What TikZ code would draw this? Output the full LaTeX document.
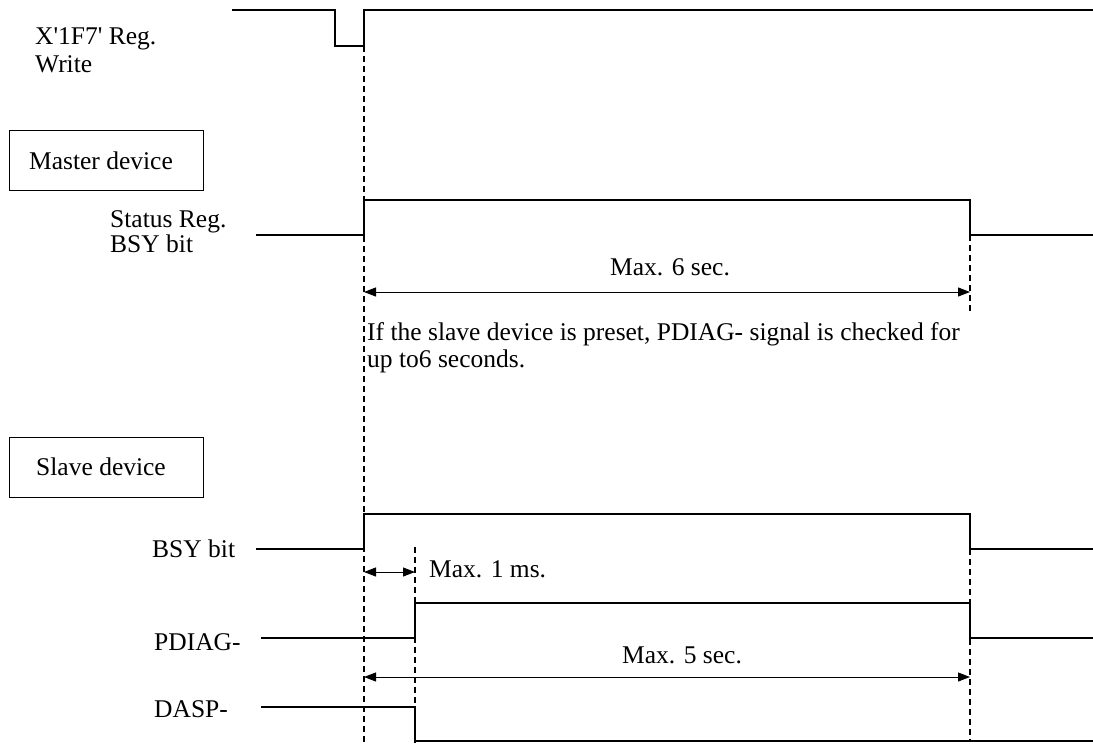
\documentclass[tikz,border=0pt]{standalone}
\usepackage{fontspec}
\setmainfont{Liberation Serif}[Ligatures=TeXOff]
\usetikzlibrary{arrows.meta}
\begin{document}
\begin{tikzpicture}[x=1pt,y=-1pt,
  sig/.style={line width=1.5pt},
  guide/.style={line width=1.2pt,dash pattern=on 6pt off 4pt},
  dim/.style={line width=1pt,{Triangle[length=12pt,width=9pt]}-{Triangle[length=12pt,width=9pt]}},
  lbl/.style={anchor=base west,inner sep=0pt,font=\fontsize{25.5}{29}\selectfont},
  boxn/.style={draw,line width=1pt,minimum width=194pt,minimum height=60pt,anchor=north west,inner sep=0pt,font=\fontsize{25.5}{29}\selectfont}]
\useasboundingbox (0,0) rectangle (1093,744);
% labels
\node[lbl] (wr1) at (35,45) {X'1F7' Reg.};
\node[lbl] (wr2) at (35,72) {Write};
\node[boxn] (master) at (8.5,130) {\hspace*{-10pt}Master device};
\node[lbl] (st1) at (110,227) {Status Reg.};
\node[lbl] (st2) at (110,252) {BSY bit};
\node[boxn] (slave) at (8.5,436.5) {\hspace*{-10pt}Slave device};
\node[lbl] (bsy) at (152,557) {BSY bit};
\node[lbl] (pdiag) at (154,650) {PDIAG-};
\node[lbl] (dasp) at (154,717) {DASP-};
\node[lbl] (m6) at (610,275) {Max. 6 sec.};
\node[lbl] (note1) at (367,340) {If the slave device is preset, PDIAG- signal is checked for};
\node[lbl] (note2) at (367,367) {up to6 seconds.};
\node[lbl] (m1) at (429,577) {Max. 1 ms.};
\node[lbl] (m5) at (622,663) {Max. 5 sec.};
% coordinates
\coordinate (wS) at (232,10);
\coordinate (wA) at (335,10);
\coordinate (wB) at (335,46);
\coordinate (wC) at (364,46);
\coordinate (wD) at (364,10);
\coordinate (wE) at (1093,10);
\coordinate (gTop) at (364,46);
\coordinate (gBot) at (364,744);
\coordinate (g2Top) at (415,547);
\coordinate (g2Bot) at (415,744);
\coordinate (g3Top) at (970,235);
\coordinate (g3Bot) at (970,313);
\coordinate (g4Top) at (970,549);
\coordinate (g4Bot) at (970,741);
\coordinate (a6L) at (364,292);
\coordinate (a6R) at (970,292);
\coordinate (a1L) at (364,572);
\coordinate (a1R) at (415,572);
\coordinate (a5L) at (364,677);
\coordinate (a5R) at (970,677);
% guides
\draw[guide] (gTop) -- (gBot);
\draw[guide] (g2Top) -- (g2Bot);
\draw[guide] (g3Top) -- (g3Bot);
\draw[guide] (g4Top) -- (g4Bot);
% signals
\draw[sig] (wS) -- (wA) -- (wB) -- (wC) -- (wD) -- (wE);
\draw[sig] (256,235) -- (364,235) -- (364,200) -- (970,200) -- (970,235) -- (1093,235);
\draw[sig] (256,549) -- (364,549) -- (364,514) -- (970,514) -- (970,549) -- (1093,549);
\draw[sig] (261,638) -- (415,638) -- (415,603) -- (970,603) -- (970,638) -- (1093,638);
\draw[sig] (261,707) -- (415,707) -- (415,741) -- (1093,741);
% dimension arrows
\draw[dim] (a6L) -- (a6R);
\draw[dim] (a1L) -- (a1R);
\draw[dim] (a5L) -- (a5R);
\end{tikzpicture}
\end{document}
